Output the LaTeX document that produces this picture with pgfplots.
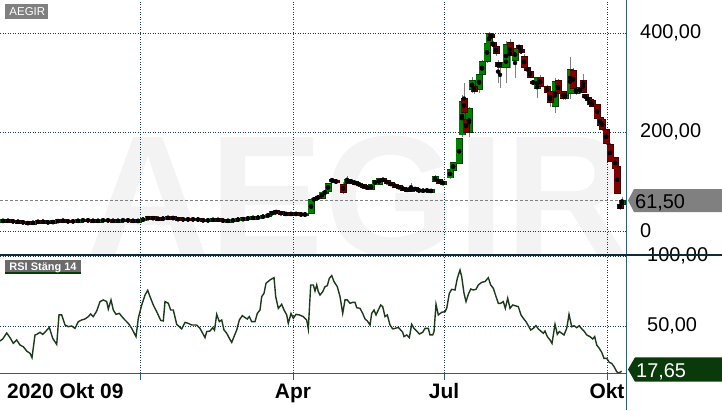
\documentclass[border=0pt]{standalone}
\usepackage{pgfplots}
\pgfplotsset{compat=1.18}
\usepackage{pgfplotstable}
\usepackage{fontspec}
\setmainfont{Liberation Sans}

\definecolor{gridc}{HTML}{1A3A50}
\definecolor{axisc}{HTML}{2C5A8A}
\definecolor{sepc}{HTML}{0C2C3C}
\definecolor{upf}{HTML}{008000}
\definecolor{upb}{HTML}{004000}
\definecolor{dnf}{HTML}{800000}
\definecolor{dnb}{HTML}{400000}
\definecolor{wick}{HTML}{808080}
\definecolor{rsic}{HTML}{1A3A1A}
\definecolor{wm}{HTML}{F3F3F3}
\definecolor{tagg}{HTML}{808080}
\definecolor{tagd}{HTML}{6B6B6B}
\definecolor{rsitag}{HTML}{0A3A0A}

% price candles: x position (chart px), open, high, low, close
\pgfplotstableread{
x o h l c
3 20 22 18 21
8 21 22 19 20
13 20 21 18 19
18 19 21 17 18
23 18 19 16 17
28 17 18 14 15
33 15 19 14 18
38 18 20 17 19
43 19 21 17 18
48 18 19 16 17
53 17 20 16 19
58 19 22 18 21
63 21 23 19 20
68 20 21 18 19
73 19 21 18 20
78 20 22 19 21
83 21 23 20 22
88 22 23 20 21
93 21 22 19 20
98 20 22 19 21
103 21 23 20 22
108 22 23 20 21
113 21 22 19 20
118 20 22 19 21
123 21 23 20 22
128 22 23 20 21
133 21 22 19 20
138 20 22 18 21
143 21 26 20 25
148 25 28 24 27
153 27 28 24 25
158 25 27 23 24
163 24 27 23 26
168 26 28 25 27
173 27 28 25 25
178 25 26 22 23
183 23 25 22 24
188 24 25 22 23
193 23 25 22 24
198 24 25 22 22
203 22 24 20 21
208 21 23 20 22
213 22 24 21 23
218 23 24 21 22
223 22 23 19 20
228 20 22 19 21
233 21 23 20 22
238 22 25 21 24
243 23 26 22 25
248 25 27 24 26
253 26 28 25 27
258 26 29 25 28
263 28 31 27 30
268 30 34 29 33
272 33 40 32 39
276 40 41 35 37
281 37 38 34 35
286 35 36 33 34
291 34 36 33 35
296 35 36 33 34
301 34 35 32 33
305 33 35 31 34
311 36 64 35 63
314 62 68 60 66
318 69 72 64 66
322 67 80 66 78
325 76 82 74 80
328 80 98 79 96
332 104 108 98 100
336 101 104 97 99
343 93 100 74 79
347 97 112 95 104
351 102 104 96 99
355 99 100 94 96
359 96 97 91 93
363 92 93 87 89
367 89 90 85 87
371 84 96 82 94
375 94 104 93 102
379 95 108 94 106
383 106 108 99 101
387 101 102 95 97
391 97 98 92 93
395 93 94 89 90
399 90 91 86 87
403 87 88 83 84
407 84 86 81 82
411 81 97 80 87
415 87 88 82 83
419 83 84 80 81
423 80 84 79 83
427 83 84 80 81
431 80 83 79 82
435 101 113 99 110
439 104 106 95 97
443 96 100 93 99
450 108 125 106 123
453 123 140 121 138
459 137 188 135 186
462 195 275 190 262
464 267 300 236 241
466 225 230 198 200
469 200 250 190 247
472 287 312 280 303
474 291 295 278 283
479 287 320 280 316
482 318 345 312 342
487 344 382 340 379
489 379 402 375 399
491 396 400 388 392
493 380 384 372 375
496 372 375 355 360
498 340 345 300 334
500 332 342 290 340
506 332 385 300 376
510 380 388 330 356
515 346 370 310 368
519 374 376 368 371
521 366 370 358 361
524 352 358 328 332
527 330 332 323 325
530 322 325 310 312
533 302 304 297 299
537 289 312 270 309
540 311 315 290 293
547 291 295 276 281
550 281 283 250 261
555 253 310 238 302
558 304 308 270 279
563 281 283 266 269
565 269 282 265 279
570 279 352 268 326
573 324 330 285 289
576 279 290 275 289
580 281 292 277 289
583 304 318 279 281
585 275 276 268 270
588 269 270 264 265
590 265 266 255 257
592 263 264 250 253
597 255 257 226 229
600 229 230 213 215
602 225 228 203 206
606 204 206 175 178
610 174 178 139 142
615 148 150 125 128
617 130 132 75 77
620 53 55 43 47
622 55 68 52 61.5
}\candles

% RSI (close, 14)
\pgfplotstableread{
x r
0 39.3
2.7 40.7
6.7 45.0
10 41.7
13.3 37.6
16.7 40.0
20 36.4
23.3 35.2
26.7 32.1
30 30.5
32 27.4
35 43.6
36.7 44.0
40 45.5
42.7 44.0
46 46.4
49.3 49.0
52.7 41.2
56.7 36.9
59 57.9
61.7 57.9
65 50.7
68.3 49.5
71.7 50.0
75 48.3
78.3 53.1
81.7 54.3
85 55.0
88.3 56.7
90.7 58.6
93.3 56.7
96.7 60.7
100 67.4
103.3 68.6
106.7 67.4
108.3 62.1
111 68.6
113.3 61.4
116 58.3
119.3 59.0
123.3 55.5
128.3 51.9
131.7 48.3
136 42.4
138.3 55.5
141.7 65.0
145 72.1
147.7 75.5
150 71.0
153.3 65.0
156.7 60.2
160.7 54.0
163.3 53.6
165 67.4
168.3 66.2
170.7 61.4
173.3 61.4
176.7 51.2
181.7 47.9
185 52.6
188.3 51.9
191.7 50.7
196.7 50.7
200 48.3
205 41.7
206.7 46.0
210 46.4
212.7 48.8
214.5 47.0
216.7 58.3
219.3 53.1
221.7 54.3
224 47.1
226.7 44.8
229.3 41.2
231.7 38.3
234 42.4
236.7 47.1
239.3 54.3
242.3 57.4
245 56.0
247.3 55.0
249.3 56.7
251.7 53.1
255 53.1
257.3 59.0
260 61.4
261.7 71.0
264 73.3
266 80.5
270 82.9
274 84.5
275.7 71.0
278.3 62.6
281.7 65.5
284 61.4
286.7 57.9
288.3 51.9
291 59.0
293.3 55.5
296 58.3
299.3 57.9
303.3 56.7
306.7 54.3
308.3 47.9
310.7 79.3
313.3 79.3
315 75.0
316.7 79.3
318.3 74.5
320 72.1
322.7 74.5
325 78.1
327.3 78.8
329.3 84.0
331.7 86.0
334 81.7
337.3 78.1
340 71.0
342.7 59.0
345 68.6
347.3 68.6
350 66.2
352.7 66.9
355 66.9
356.7 63.1
360 62.6
362.7 59.0
365 55.0
367.3 53.6
370 50.7
371.7 59.0
374 61.4
376 57.9
378.3 61.4
380.7 65.0
382.7 63.8
385 56.7
387.3 57.9
390 50.7
392.7 47.9
395 48.3
398.3 49.0
400.7 47.1
402.7 45.5
404 42.4
406.7 43.6
409.3 41.7
411.7 51.2
414 48.3
416.7 46.4
419.3 44.3
422.7 45.5
425 48.3
428.3 48.3
430 43.6
432.7 43.6
434 46.0
436 65.5
438.3 57.9
441.7 59.8
445 60.2
446.7 62.6
449.3 73.3
451.7 76.2
455 75.7
457.3 84.0
460 90.0
461.7 85.2
464 73.3
466 67.4
468.3 72.6
470.7 76.4
473.3 75.7
476 76.2
478.3 79.3
481.7 81.2
485 81.7
488.3 84.5
490.7 79.3
493.3 76.9
496 71.0
498.3 66.2
500.7 66.2
503.3 67.4
505.3 62.6
507.7 69.8
510 62.6
512.7 65.0
515 64.5
518.3 63.8
521 57.9
523.3 55.5
526 53.1
528.3 50.2
530.7 47.1
533.3 48.3
536 50.2
538.3 47.9
540.7 46.4
543.3 44.8
545 46.4
547.3 42.4
550 40.0
552 37.6
555 51.2
557.3 44.0
559.3 46.0
561.7 44.8
564 43.6
566.7 48.3
569 58.3
571.7 49.5
574 50.2
576.7 48.8
579.3 50.2
581.7 47.9
584 46.4
586.7 43.6
590 42.4
592.7 40.7
594.7 42.4
596.7 36.4
599.3 34.0
601.7 31.2
604 26.9
606.7 26.9
609.3 24.0
611.7 23.3
614 21.0
616.7 17.4
618.3 16.4
620 17.0
621.7 17.65
}\rsi

\begin{document}
\begin{tikzpicture}[x=1bp,y=1bp]
% watermark
\node[anchor=base west, inner sep=0pt, text=wm, font=\fontsize{172}{174}\selectfont\bfseries] at (86,155) {AEGIR};

% ---------- price panel ----------
\begin{axis}[
  at={(0bp,155bp)}, anchor=south west, scale only axis,
  width=626bp, height=255bp,
  xmin=0, xmax=626, ymin=-48.6, ymax=467.4,
  axis line style={draw=none},
  xtick={140,293,444,607}, xticklabels={},
  ytick={0,200,400}, yticklabels={0,{200,00},{400,00}},
  yticklabel pos=right,
  tick style={draw=none},
  grid=major,
  major grid style={gridc, line width=0.8bp, dash pattern=on 0.9bp off 1.6bp},
  yticklabel style={anchor=west, inner sep=0pt, xshift=14bp, font=\fontsize{20}{20}\selectfont, text=black},
]
\addplot[forget plot, wick, line width=0.9bp, dash pattern=on 3bp off 2bp] coordinates {(0,61.5) (626,61.5)};
% wicks
\addplot[forget plot, only marks, mark=none,
  error bars/.cd, y dir=both, y explicit, error mark=none,
  error bar style={wick, line width=1bp}]
  table[x=x, y expr={(\thisrow{h}+\thisrow{l})/2}, y error expr={(\thisrow{h}-\thisrow{l})/2}] {\candles};
% rising candles
\addplot[forget plot, only marks, mark=none,
  error bars/.cd, y dir=both, y explicit, error mark=none,
  error bar style={upb, line width=7bp}]
  table[x=x, y expr={(\thisrow{o}+\thisrow{c})/2+(\thisrow{c}<\thisrow{o})*3000}, y error expr={max(abs(\thisrow{c}-\thisrow{o})/2,2)+1.6}] {\candles};
\addplot[forget plot, only marks, mark=none,
  error bars/.cd, y dir=both, y explicit, error mark=none,
  error bar style={upf, line width=5.2bp}]
  table[x=x, y expr={(\thisrow{o}+\thisrow{c})/2+(\thisrow{c}<\thisrow{o})*3000}, y error expr={max(abs(\thisrow{c}-\thisrow{o})/2,2)}] {\candles};
% falling candles
\addplot[forget plot, only marks, mark=none,
  error bars/.cd, y dir=both, y explicit, error mark=none,
  error bar style={dnb, line width=7bp}]
  table[x=x, y expr={(\thisrow{o}+\thisrow{c})/2+(\thisrow{c}>=\thisrow{o})*3000}, y error expr={max(abs(\thisrow{c}-\thisrow{o})/2,2)+1.6}] {\candles};
\addplot[forget plot, only marks, mark=none,
  error bars/.cd, y dir=both, y explicit, error mark=none,
  error bar style={dnf, line width=5.2bp}]
  table[x=x, y expr={(\thisrow{o}+\thisrow{c})/2+(\thisrow{c}>=\thisrow{o})*3000}, y error expr={max(abs(\thisrow{c}-\thisrow{o})/2,2)}] {\candles};
\end{axis}

% ---------- RSI panel ----------
\begin{axis}[
  at={(0bp,36.7bp)}, anchor=south west, scale only axis,
  width=626bp, height=118.3bp,
  xmin=0, xmax=626, ymin=16.2, ymax=100.7,
  axis line style={draw=none},
  xtick={140,293,444,607}, xticklabels={},
  ytick={50,100}, yticklabels={{50,00},{100,00}},
  yticklabel pos=right,
  xtick pos=left,
  ytick style={draw=none},
  xtick style={axisc, line width=1bp},
  tick align=outside, major tick length=7bp,
  grid=major,
  major grid style={gridc, line width=0.8bp, dash pattern=on 0.9bp off 1.6bp},
  yticklabel style={anchor=west, inner sep=0pt, xshift=14bp, font=\fontsize{20}{20}\selectfont, text=black},
]
\addplot[rsic, line width=1.4bp, mark=none] table[x=x, y=r] {\rsi};
\end{axis}

% frame lines
\draw[axisc, line width=1bp] (626,0) -- (626,410);
\draw[axisc, line width=1bp] (0,36.7) -- (626,36.7);
\draw[sepc, line width=2.6bp] (0,155) -- (722,155);

% last-value tags
\fill[tagg] (628,209.5) -- (634,221) -- (722,221) -- (722,198) -- (634,198) -- cycle;
\node[anchor=base west, inner sep=0pt, font=\fontsize{20}{20}\selectfont] at (635,202) {61,50};
\fill[rsitag] (628,40.5) -- (635,52.7) -- (722,52.7) -- (722,28.3) -- (635,28.3) -- cycle;
\node[anchor=base west, inner sep=0pt, text=white, font=\fontsize{20}{20}\selectfont] at (636,33) {17,65};

% panel titles
\fill[tagg] (5,390.7) rectangle (48,406);
\node[anchor=base west, inner sep=0pt, text=white, font=\fontsize{11.5}{12}\selectfont] at (9.3,394) {AEGIR};
\fill[tagd] (5,137.7) rectangle (81,150);
\fill[rsitag] (5,136) rectangle (81,137.7);
\node[anchor=base west, inner sep=0pt, text=white, font=\fontsize{11}{12}\selectfont\bfseries] at (9.3,140) {RSI Stäng 14};

% date labels
\node[anchor=base west, inner sep=0pt, font=\fontsize{21}{21}\selectfont\bfseries] at (7,12) {2020 Okt 09};
\node[anchor=base, inner sep=0pt, font=\fontsize{21}{21}\selectfont\bfseries] at (293,12) {Apr};
\node[anchor=base, inner sep=0pt, font=\fontsize{21}{21}\selectfont\bfseries] at (444,12) {Jul};
\node[anchor=base, inner sep=0pt, font=\fontsize{21}{21}\selectfont\bfseries] at (607,12) {Okt};

\pgfresetboundingbox
\path[use as bounding box] (0,0) rectangle (722,410);
\end{tikzpicture}
\end{document}
